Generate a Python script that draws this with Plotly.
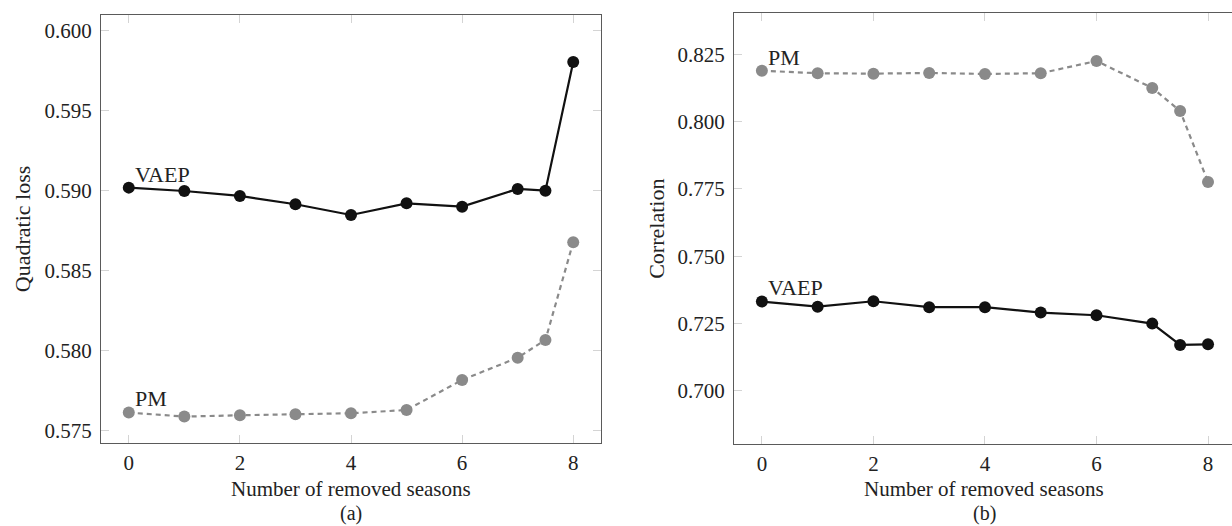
import plotly.graph_objects as go

# ---------------- data ----------------
seasons = [0, 1, 2, 3, 4, 5, 6, 7, 7.5, 8]
loss_vaep = [0.59019, 0.58998, 0.58967, 0.58915, 0.58848, 0.58921, 0.58900, 0.59011, 0.59000, 0.59804]
loss_pm = [0.57613, 0.57588, 0.57596, 0.57603, 0.57609, 0.57629, 0.57817, 0.57956, 0.58067, 0.58678]
corr_vaep = [0.7332, 0.7313, 0.7333, 0.7311, 0.7311, 0.7291, 0.7281, 0.7250, 0.7171, 0.7173]
corr_pm = [0.8189, 0.81795, 0.8178, 0.81806, 0.81769, 0.81795, 0.8225, 0.8125, 0.80395, 0.7776]
loss_ticks = [0.575, 0.580, 0.585, 0.590, 0.595, 0.600]
corr_ticks = [0.700, 0.725, 0.750, 0.775, 0.800, 0.825]
x_ticks = [0, 2, 4, 6, 8]

FONT = "Liberation Serif, Times New Roman, serif"
TXT = "#222222"
FS_TICK = 21
FS_TXT = 22
W, H = 1232, 526

def px_x(p):
    return p / W

def px_y(p):
    return 1 - p / H

black = "#111111"
grey = "#8a8a8a"
MS = 12
LW = 2.2

fig = go.Figure()
fig.add_trace(go.Scatter(x=seasons, y=loss_vaep, mode="lines+markers", xaxis="x", yaxis="y",
                         line=dict(color=black, width=LW), marker=dict(color=black, size=MS),
                         showlegend=False))
fig.add_trace(go.Scatter(x=seasons, y=loss_pm, mode="lines+markers", xaxis="x", yaxis="y",
                         line=dict(color=grey, width=LW, dash="5px,4px"), marker=dict(color=grey, size=MS),
                         showlegend=False))
fig.add_trace(go.Scatter(x=seasons, y=corr_vaep, mode="lines+markers", xaxis="x2", yaxis="y2",
                         line=dict(color=black, width=LW), marker=dict(color=black, size=MS),
                         showlegend=False))
fig.add_trace(go.Scatter(x=seasons, y=corr_pm, mode="lines+markers", xaxis="x2", yaxis="y2",
                         line=dict(color=grey, width=LW, dash="5px,4px"), marker=dict(color=grey, size=MS),
                         showlegend=False))

axis_common = dict(
    showgrid=False, zeroline=False, showline=True, linecolor="#5a5a5a", linewidth=1.3,
    ticks="inside", ticklen=8, tickwidth=1, tickcolor="#d4d4d4",
    tickfont=dict(family=FONT, size=FS_TICK, color=TXT),
)

left_x0, left_x1 = 101, 601
right_x0 = 734

fig.update_layout(
    width=W, height=H, margin=dict(l=0, r=0, t=0, b=0),
    paper_bgcolor="white", plot_bgcolor="white",
    xaxis=dict(domain=[px_x(left_x0), px_x(left_x1)], range=[-0.5, 8.5], anchor="y",
               tickvals=x_ticks, mirror="ticks", ticklabelstandoff=0, **axis_common),
    yaxis=dict(domain=[px_y(443.3), px_y(15)], range=[0.57421, 0.60098], anchor="x",
               tickvals=loss_ticks, tickformat=".3f", mirror="ticks", ticklabelstandoff=4,
               **axis_common),
    xaxis2=dict(domain=[px_x(right_x0), 1.0], range=[-0.5, 8.43], anchor="y2",
                tickvals=x_ticks, mirror="ticks", ticklabelstandoff=0, **axis_common),
    yaxis2=dict(domain=[px_y(444.3), px_y(13.3)], range=[0.6802, 0.8402], anchor="x2",
                tickvals=corr_ticks, tickformat=".3f", mirror=False, ticklabelstandoff=4,
                **axis_common),
    yaxis3=dict(overlaying="y2", side="right", anchor="x2", range=[0.6802, 0.8402],
                tickvals=corr_ticks, showticklabels=False, showgrid=False, zeroline=False,
                showline=False, ticks="inside", ticklen=8, tickwidth=1, tickcolor="#d4d4d4"),
)

ann = []
def text(x, y, s, xref="paper", yref="paper", angle=0, xanchor="center", yanchor="middle", size=FS_TXT):
    ann.append(dict(x=x, y=y, xref=xref, yref=yref, text=s, showarrow=False, textangle=angle,
                    xanchor=xanchor, yanchor=yanchor, borderpad=0,
                    font=dict(family=FONT, size=size, color=TXT)))

text(px_x(22), px_y((15 + 443.3) / 2), "Quadratic loss", angle=-90)
text(px_x(657), px_y((13.3 + 444.3) / 2), "Correlation", angle=-90)
text(px_x((left_x0 + left_x1) / 2), px_y(488.5), "Number of removed seasons", size=21)
text(px_x(984), px_y(488.5), "Number of removed seasons", size=21)
text(px_x((left_x0 + left_x1) / 2), px_y(526), "(a)", yanchor="bottom", size=20)
text(px_x(984), px_y(526), "(b)", yanchor="bottom", size=20)

text(0.10, 0.59104, "VAEP", xref="x", yref="y", xanchor="left")
text(0.10, 0.57698, "PM", xref="x", yref="y", xanchor="left")
text(0.10, 0.8238, "PM", xref="x2", yref="y2", xanchor="left")
text(0.10, 0.7384, "VAEP", xref="x2", yref="y2", xanchor="left")

fig.update_layout(annotations=ann)
fig.write_html("out.html")
